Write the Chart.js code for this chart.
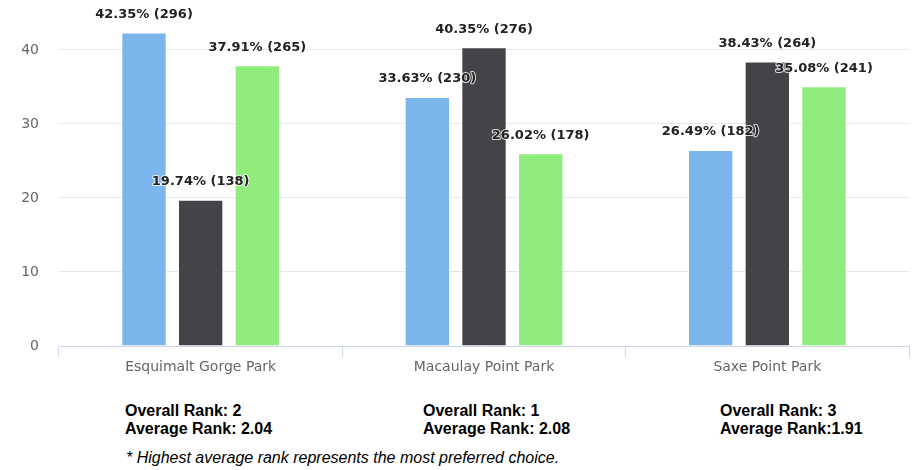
<!DOCTYPE html>
<html>
<head>
<meta charset="utf-8">
<script src="https://cdn.jsdelivr.net/npm/chart.js@4/dist/chart.umd.min.js"></script>
<style>
    body { margin: 0; background: #fff; }
    #wrap { position: relative; width: 915px; height: 470px; }
    #myChart { position: absolute; left: 0; top: 0; }
    .rank { position: absolute; top: 402px; font: bold 16px "Liberation Sans", Arial, sans-serif; line-height: 18px; color: #000; }
    .note { position: absolute; left: 126px; top: 449px; font: italic 16px "Liberation Sans", Arial, sans-serif; color: #000; }
</style>
</head>
<body>
<div id="wrap">
    <canvas id="myChart" width="915" height="380"></canvas>
</div>
<script>
const parks = ['Esquimalt Gorge Park', 'Macaulay Point Park', 'Saxe Point Park'];
const seriesNames = ['Rank 1', 'Rank 2', 'Rank 3'];
const rank1Pct = [42.35, 33.63, 26.49];
const rank1Count = [296, 230, 182];
const rank2Pct = [19.74, 40.35, 38.43];
const rank2Count = [138, 276, 264];
const rank3Pct = [37.91, 26.02, 35.08];
const rank3Count = [265, 178, 241];
const overallRank = ['2', '1', '3'];
const averageRank = [' 2.04', ' 2.08', '1.91'];
const yTicks = [0, 10, 20, 30, 40];

const colors = ['#7cb5ec', '#434348', '#90ed7d'];
const counts = [rank1Count, rank2Count, rank3Count];

// rank text under each park
const wrap = document.getElementById('wrap');
const rankLeft = [125, 423, 720];
parks.forEach(function (p, i) {
    const d = document.createElement('div');
    d.className = 'rank';
    d.style.left = rankLeft[i] + 'px';
    d.innerHTML = 'Overall Rank: ' + overallRank[i] + '<br>Average Rank:' + averageRank[i];
    wrap.appendChild(d);
});
const note = document.createElement('div');
note.className = 'note';
note.textContent = '* Highest average rank represents the most preferred choice.';
wrap.appendChild(note);

// labels above bars, like "42.35% (296)"
const barLabels = {
    id: 'barLabels',
    afterDatasetsDraw(chart) {
        const c = chart.ctx;
        c.save();
        c.font = 'bold 13px "DejaVu Sans", sans-serif';
        c.textAlign = 'center';
        c.textBaseline = 'middle';
        c.lineJoin = 'round';
        chart.data.datasets.forEach(function (ds, di) {
            chart.getDatasetMeta(di).data.forEach(function (bar, i) {
                const txt = ds.data[i].toFixed(2) + '% (' + counts[di][i] + ')';
                c.strokeStyle = 'rgba(255,255,255,0.8)';
                c.lineWidth = 2;
                c.strokeText(txt, bar.x, bar.y - 18);
                c.fillStyle = '#222';
                c.fillText(txt, bar.x, bar.y - 18);
            });
        });
        c.restore();
    }
};

const ctx = document.getElementById('myChart');
new Chart(ctx, {
    type: 'bar',
    data: {
        labels: parks,
        datasets: [rank1Pct, rank2Pct, rank3Pct].map(function (vals, i) {
            return {
                label: seriesNames[i],
                data: vals,
                backgroundColor: colors[i],
                borderColor: '#ffffff',
                borderWidth: 1,
                categoryPercentage: 0.6,
                barPercentage: 0.8
            };
        })
    },
    options: {
        responsive: false,
        animation: false,
        layout: { padding: { top: 12, right: 6, left: 0, bottom: 0 } },
        plugins: {
            legend: { display: false },
            tooltip: { enabled: false }
        },
        scales: {
            x: {
                grid: { offset: true, drawOnChartArea: false, tickLength: 11, color: '#ccd6eb' },
                border: { color: '#ccd6eb' },
                ticks: { color: '#666', font: { family: 'DejaVu Sans', size: 14 }, padding: 2 },
                afterFit(scale) { scale.height = 34; }
            },
            y: {
                min: 0,
                max: 42.9,
                afterBuildTicks(scale) {
                    scale.ticks = yTicks.map(function (v) { return { value: v }; });
                },
                grid: {
                    drawTicks: false,
                    color: function (c) { return c.tick && c.tick.value === 0 ? 'rgba(0,0,0,0)' : '#e6e6e6'; }
                },
                border: { display: false },
                ticks: { color: '#666', font: { family: 'DejaVu Sans', size: 14 }, padding: 20 },
                afterFit(scale) { scale.width = 59; }
            }
        }
    },
    plugins: [barLabels]
});
</script>
</body>
</html>
